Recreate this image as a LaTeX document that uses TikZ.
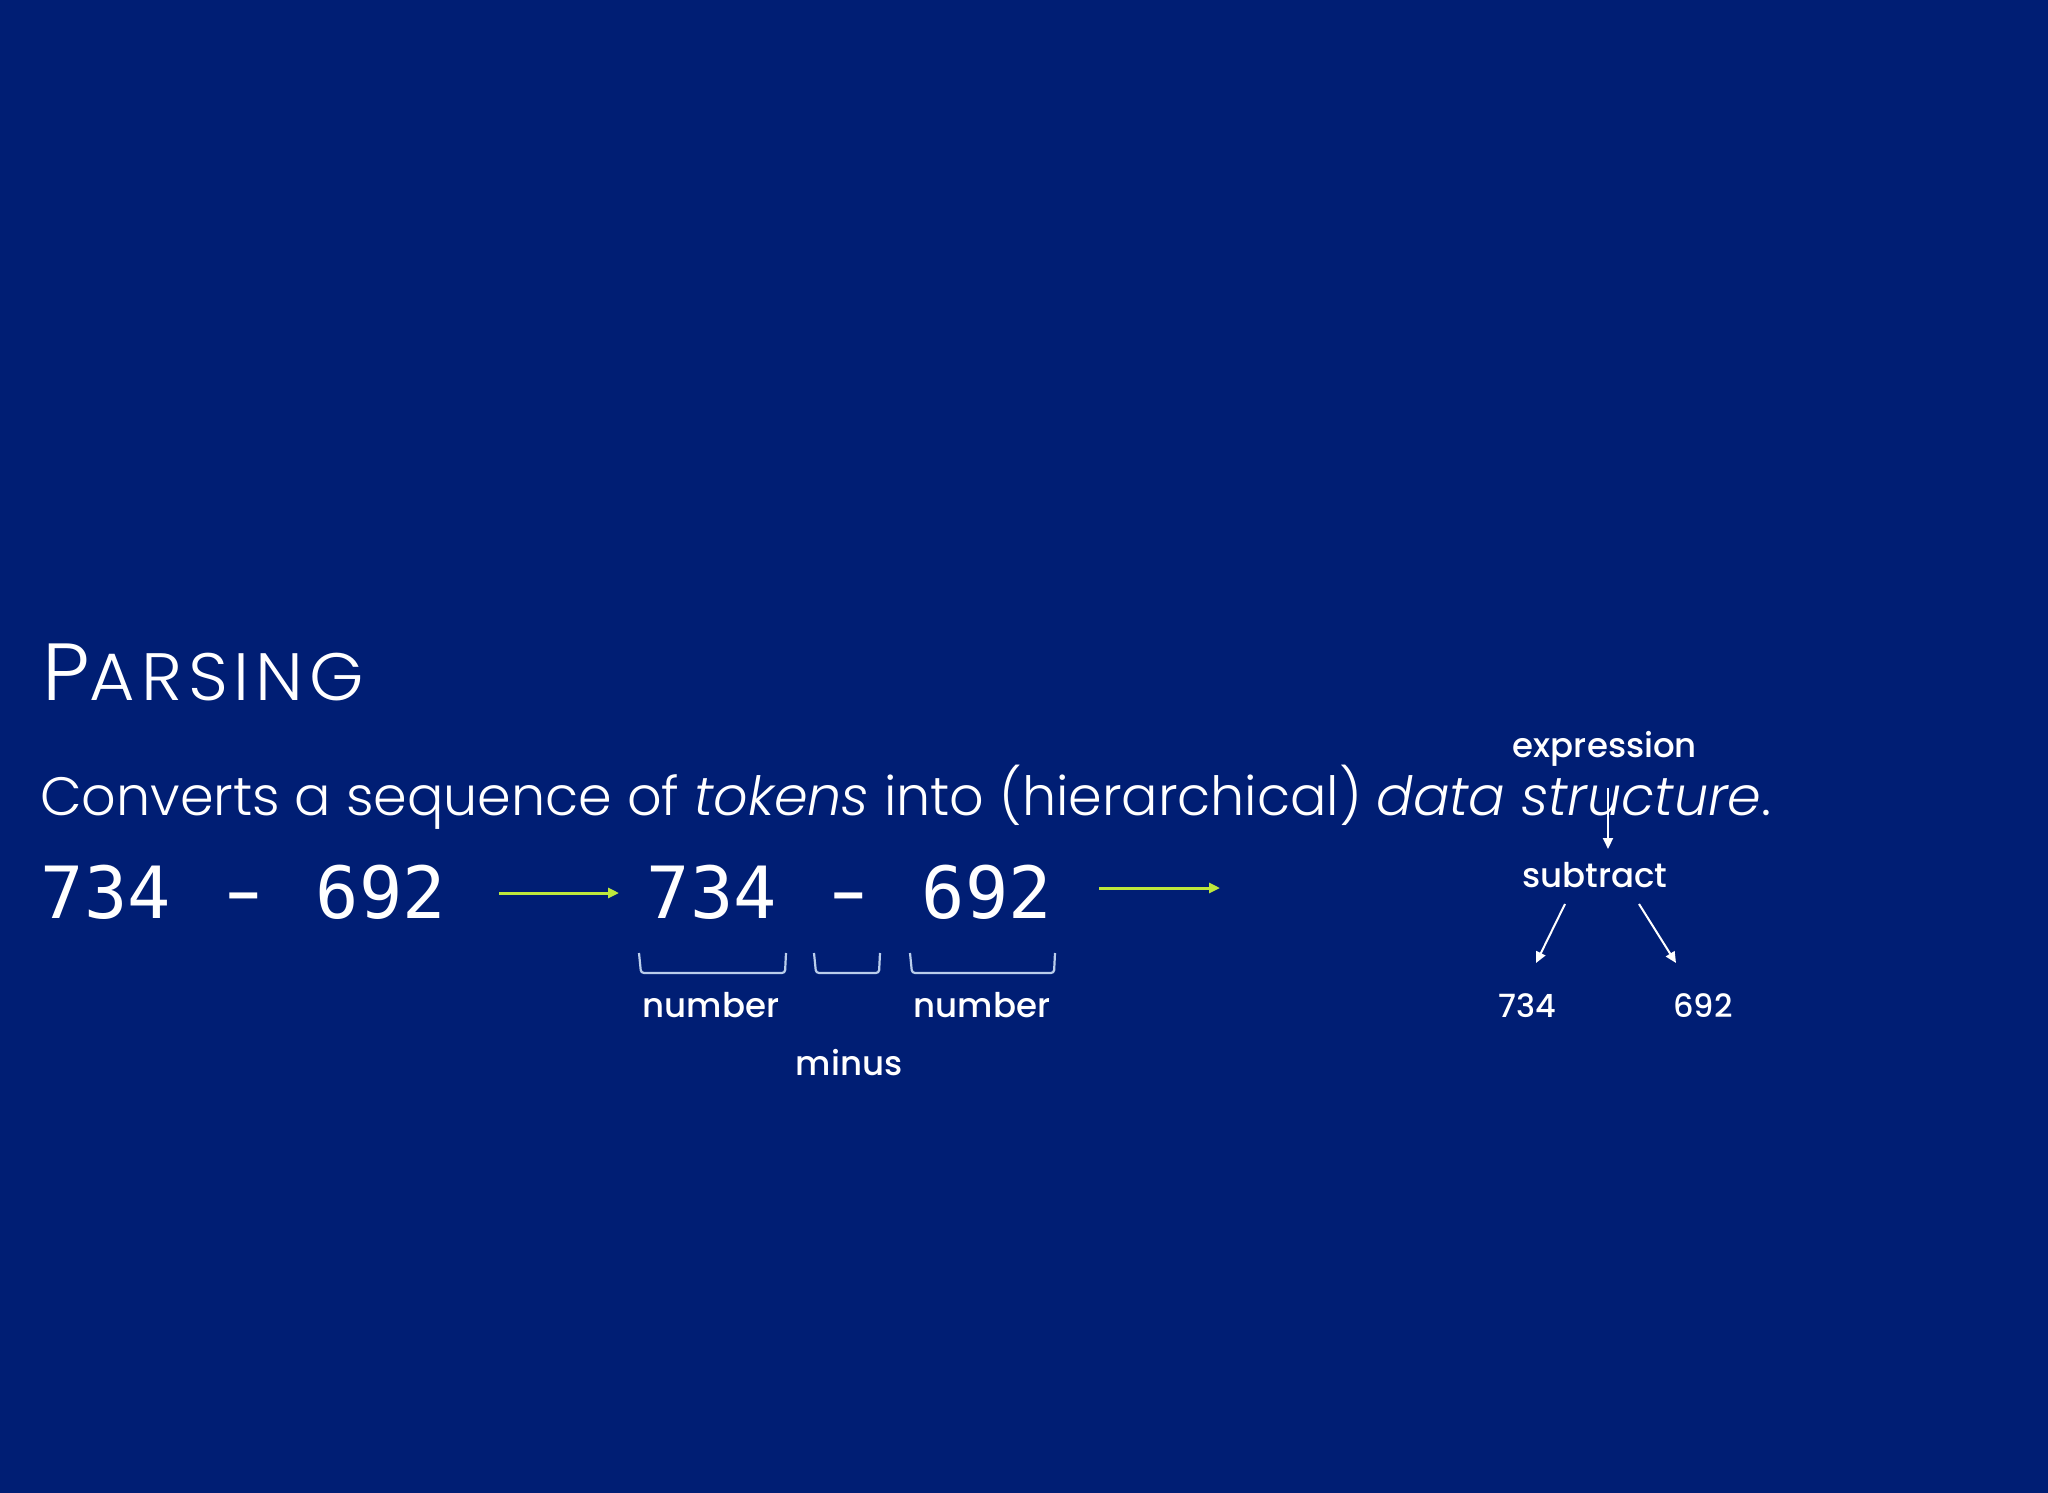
\documentclass[tikz,border=0pt]{standalone}
\usepackage{graphicx}
\usepackage{fontspec}
\setmainfont{Poppins}
\newfontfamily\plight{Poppins Light}[ItalicFont={Poppins Light Italic}]
\newfontfamily\ptitle{Poppins Light}[LetterSpace=9,FakeStretch=1.04]
\newfontfamily\pmed{Poppins Medium}
\newfontfamily\pmono{DejaVu Sans Mono}
\usetikzlibrary{arrows.meta}
\definecolor{bgblue}{RGB}{0,30,116}
\definecolor{lime}{RGB}{190,232,60}
\definecolor{brk}{RGB}{185,205,235}
\tikzset{
  titletext/.style={text=white, inner sep=0pt, font=\ptitle\fontsize{81}{90}\selectfont},
  bodytext/.style={text=white, inner sep=0pt, font=\plight\fontsize{54}{60}\selectfont},
  monotext/.style={text=white, inner sep=0pt, font=\pmono\fontsize{72}{80}\selectfont},
  labeltext/.style={text=white, inner sep=0pt, font=\pmed\fontsize{34}{40}\selectfont},
  leaftext/.style={text=white, inner sep=0pt, font=\pmed\fontsize{32}{40}\selectfont},
  garrow/.style={draw=lime, line width=3pt, -{Triangle[length=11pt,width=10pt]}},
  tarrow/.style={draw=white, line width=2pt, -{Triangle[length=11pt,width=10pt]}},
  bracket/.style={draw=brk, line width=2.2pt, rounded corners=3pt}
}
\begin{document}
\begin{tikzpicture}[x=1pt,y=-1pt]
\fill[bgblue] (0,0) rectangle (2048,1493);
\useasboundingbox (0,0) rectangle (2048,1493);

\node[titletext, anchor=base west] (title) at (42,700) {P{\fontsize{67}{70}\selectfont ARSING}};
\node[bodytext, anchor=base west] (desc) at (40,815) {Converts a sequence of \textit{tokens} into (hierarchical) \textit{data structure}.};

\node[monotext, anchor=base] (a734) at (106,918) {734};
\node[monotext, anchor=base] (adash) at (244,918) {\scalebox{0.75}[1]{−}};
\node[monotext, anchor=base] (a692) at (381,918) {692};

\node[monotext, anchor=base] (b734) at (712,918) {734};
\node[monotext, anchor=base] (bdash) at (849,918) {\scalebox{0.75}[1]{−}};
\node[monotext, anchor=base] (b692) at (987,918) {692};

\coordinate (g1s) at (499,893);
\coordinate (g1e) at (619,893);
\coordinate (g2s) at (1099,888);
\coordinate (g2e) at (1220,888);
\draw[garrow] (g1s) -- (g1e);
\draw[garrow] (g2s) -- (g2e);

\draw[bracket] (639,953) -- (641,973) -- (785,973) -- (786,953);
\draw[bracket] (814,953) -- (816,973) -- (879,973) -- (880,953);
\draw[bracket] (910,953) -- (912,973) -- (1054,973) -- (1055,953);

\node[labeltext, anchor=base] (num1) at (711,1017) {number};
\node[labeltext, anchor=base] (minus) at (849,1075) {minus};
\node[labeltext, anchor=base] (num2) at (982,1017) {number};

\node[labeltext, anchor=base] (expr) at (1605,757) {expression};
\node[labeltext, anchor=base] (sub) at (1595,887) {subtract};
\node[leaftext, anchor=base] (l734) at (1527,1017) {734};
\node[leaftext, anchor=base] (l692) at (1703,1017) {692};

\coordinate (v1) at (1608,788);
\coordinate (v2) at (1608,849);
\draw[tarrow] (v1) -- (v2);
\coordinate (la) at (1565,904);
\coordinate (lb) at (1536,963);
\draw[tarrow] (la) -- (lb);
\coordinate (ra) at (1639,904);
\coordinate (rb) at (1676,963);
\draw[tarrow] (ra) -- (rb);
\end{tikzpicture}
\end{document}
